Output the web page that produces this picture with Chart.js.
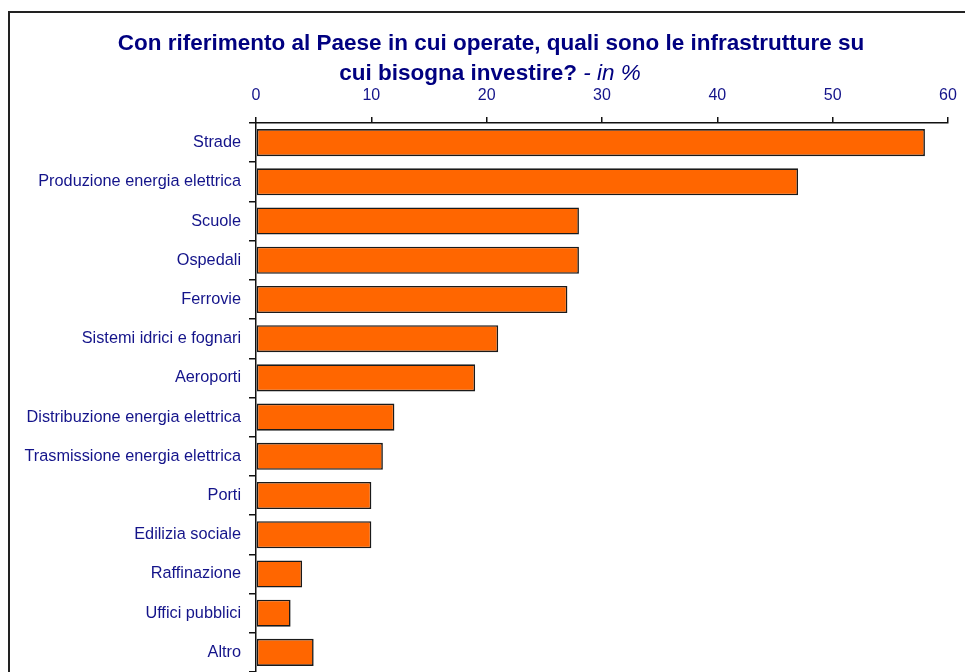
<!DOCTYPE html>
<html><head><meta charset="utf-8">
<script src="https://cdn.jsdelivr.net/npm/chart.js@4.4.0/dist/chart.umd.min.js"></script>
<style>html,body{margin:0;padding:0;background:#fff;overflow:hidden}#wrap{position:relative;width:965px;height:672px}</style>
</head><body><div id="wrap"><canvas id="c" width="965" height="672"></canvas></div>
<script>
const categories = ["Strade","Produzione energia elettrica","Scuole","Ospedali","Ferrovie","Sistemi idrici e fognari","Aeroporti","Distribuzione energia elettrica","Trasmissione energia elettrica","Porti","Edilizia sociale","Raffinazione","Uffici pubblici","Altro"];
const values = [58,47,28,28,27,21,19,12,11,10,10,4,3,5];
const xMin = 0, xMax = 60, xStep = 10;
const titleLine1 = "Con riferimento al Paese in cui operate, quali sono le infrastrutture su";
const titleLine2Bold = "cui bisogna investire?";
const titleLine2Italic = " - in %";

const NAVY = '#000080';
const TICKCOL = '#14148a';
const FAM = "'Liberation Sans', Arial, sans-serif";
const yFont = 16.3;
const xFont = 16;
const tFont = 22.5;

const framePlugin = {
  id: 'frame',
  beforeDraw(chart) {
    const ctx = chart.ctx;
    ctx.save();
    ctx.strokeStyle = '#222';
    ctx.lineWidth = 2;
    ctx.strokeRect(9, 12, 2000, 2000);
    ctx.restore();
  },
  afterDraw(chart) {
    const ctx = chart.ctx;
    ctx.save();
    ctx.fillStyle = NAVY;
    ctx.textBaseline = 'alphabetic';
    ctx.textAlign = 'center';
    ctx.font = 'bold ' + tFont + 'px ' + FAM;
    ctx.fillText(titleLine1, 491, 50);
    ctx.textAlign = 'left';
    const fb = 'bold ' + tFont + 'px ' + FAM;
    const fi = 'italic ' + tFont + 'px ' + FAM;
    ctx.font = fb; const w1 = ctx.measureText(titleLine2Bold).width;
    ctx.font = fi; const w2 = ctx.measureText(titleLine2Italic).width;
    const x0 = 490 - (w1 + w2) / 2;
    ctx.font = fb; ctx.fillText(titleLine2Bold, x0, 80);
    ctx.font = fi; ctx.fillText(titleLine2Italic, x0 + w1, 80);
    ctx.restore();
  }
};

new Chart(document.getElementById('c'), {
  type: 'bar',
  data: {
    labels: categories,
    datasets: [{
      data: values,
      backgroundColor: '#FF6600',
      borderColor: '#1a1a1a',
      borderWidth: 1.6,
      borderSkipped: false,
      barPercentage: 0.69,
      categoryPercentage: 1.0
    }]
  },
  options: {
    indexAxis: 'y',
    responsive: false,
    animation: false,
    layout: { padding: { left: 0, right: 17, top: 0, bottom: 0 } },
    plugins: { legend: { display: false }, title: { display: false }, tooltip: { enabled: false } },
    scales: {
      x: {
        position: 'top',
        min: xMin, max: xMax,
        ticks: { stepSize: xStep, color: TICKCOL, font: { family: FAM, size: xFont }, padding: 12, maxRotation: 0 },
        grid: { drawOnChartArea: false, drawTicks: true, tickLength: 6, color: '#111', lineWidth: 1.5 },
        border: { color: '#111', width: 1.5 },
        afterFit(s) { s.height = 123; s.paddingLeft = 0; s.paddingRight = 0; }
      },
      y: {
        ticks: { color: TICKCOL, font: { family: FAM, size: yFont }, padding: 8 },
        grid: { drawOnChartArea: false, drawTicks: true, tickLength: 7, color: '#111', lineWidth: 1.5, offset: true },
        border: { color: '#111', width: 1.5 },
        afterFit(s) { s.width = 256; s.paddingTop = 0; s.paddingBottom = 0; }
      }
    }
  },
  plugins: [framePlugin]
});
</script></body></html>
